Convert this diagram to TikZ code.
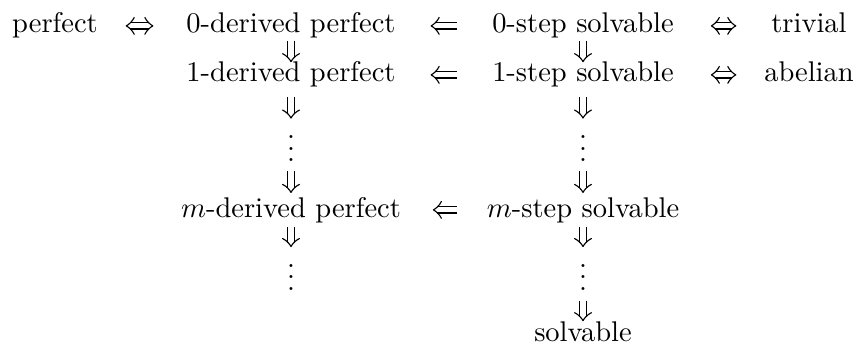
\documentclass[tikz,border=0pt]{standalone}
\usepackage{amsmath, amssymb}
\usetikzlibrary{arrows.meta}
% a Computer Modern like head for double lines
\pgfdeclarearrow{
  name = Imp,
  setup code = {
    \pgfarrowssettipend{0pt}
    \pgfarrowssetlineend{-1.4pt}
    \pgfarrowssetbackend{-2.8pt}
    \pgfarrowshullpoint{0pt}{0pt}
    \pgfarrowshullpoint{-2.8pt}{2.95pt}
    \pgfarrowshullpoint{-2.8pt}{-2.95pt}
  },
  drawing code = {
    \pgfsetlinewidth{0.4pt}
    \pgfsetroundcap
    \pgfsetroundjoin
    \pgfpathmoveto{\pgfqpoint{-2.8pt}{2.95pt}}
    \pgfpathcurveto{\pgfqpoint{-2.1pt}{1.475pt}}{\pgfqpoint{-0.84pt}{0.44pt}}{\pgfqpoint{0pt}{0pt}}
    \pgfpathcurveto{\pgfqpoint{-0.84pt}{-0.44pt}}{\pgfqpoint{-2.1pt}{-1.475pt}}{\pgfqpoint{-2.8pt}{-2.95pt}}
    \pgfusepathqstroke
  },
}
\tikzset{
  lbl/.style={inner sep=0pt, anchor=base, text height=6.94pt, text depth=1.94pt},
  dts/.style={inner sep=0pt, anchor=base},
  imp/.style={double, double distance=1.8pt, line width=0.4pt, -{Imp}},
  iff/.style={double, double distance=1.8pt, line width=0.4pt, {Imp}-{Imp}},
}
\begin{document}
\begin{tikzpicture}[x=0.351pt, y=-0.351pt]
  \useasboundingbox (0,0) rectangle (857,347);
  % derived column
  \node[lbl] (perf) at (55,33) {perfect};
  \node[lbl] (der-0) at (291,33) {0-derived perfect};
  \node[lbl] (der-1) at (291,82) {1-derived perfect};
  \node[dts] (der-d) at (291,161.5) {$\vdots$};
  \node[lbl] (der-m) at (291,217) {$m$-derived perfect};
  \node[dts] (der-dd) at (291,290) {$\vdots$};
  % step column
  \node[lbl] (st-0) at (583,33) {0-step solvable};
  \node[lbl] (st-1) at (583,82) {1-step solvable};
  \node[dts] (st-d) at (583,161.5) {$\vdots$};
  \node[lbl] (st-m) at (583,217) {$m$-step solvable};
  \node[dts] (st-dd) at (583,290) {$\vdots$};
  \node[lbl] (solv) at (583,341) {solvable};
  \node[lbl] (triv) at (809,33) {trivial};
  \node[lbl] (abel) at (809,82) {abelian};
  % horizontal implications
  \draw[iff, shorten <=9.8pt, shorten >=11.6pt] (perf) -- (der-0);
  \draw[imp, shorten <=12.3pt, shorten >=12.3pt] (st-0) -- (der-0);
  \draw[imp, shorten <=12.3pt, shorten >=12.3pt] (st-1) -- (der-1);
  \draw[imp, shorten <=10.4pt, shorten >=11.2pt] (st-m) -- (der-m);
  \draw[iff, shorten <=13pt, shorten >=12.3pt] (st-0) -- (triv);
  \draw[iff, shorten <=13pt, shorten >=9.8pt] (st-1) -- (abel);
  % vertical implications
  \foreach \c in {der,st} {
    \draw[imp, shorten <=0.5pt] (\c-0) -- (\c-1);
    \draw[imp, shorten <=3.3pt] (\c-1) -- (\c-d);
    \draw[imp, shorten <=3pt, shorten >=1.5pt] (\c-d) -- (\c-m);
    \draw[imp, shorten <=1.2pt] (\c-m) -- (\c-dd);
  }
  \draw[imp, shorten <=3.5pt] (st-dd) -- (solv);
\end{tikzpicture}
\end{document}
